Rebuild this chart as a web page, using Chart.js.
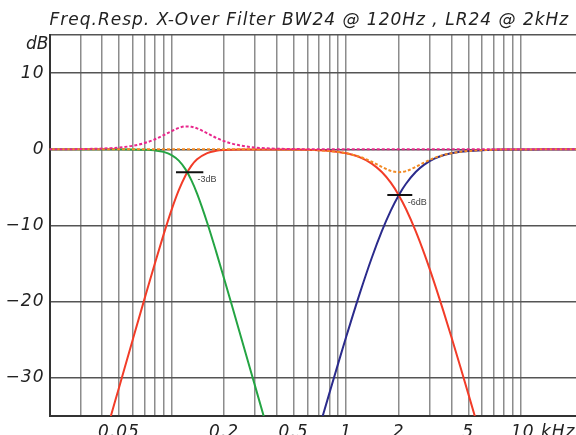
<!DOCTYPE html>
<html>
<head>
<meta charset="utf-8">
<title>X-Over Filter</title>
<script src="https://cdn.jsdelivr.net/npm/chart.js@4.4.1/dist/chart.umd.min.js"></script>
<style>
  html, body { margin: 0; padding: 0; background: #fff; }
  canvas { display: block; }
</style>
</head>
<body>
<canvas id="respChart" width="576" height="435"></canvas>
<script>
// frequency points in kHz, shared by every curve
const freqs = [0.02, 0.025, 0.03, 0.035, 0.04, 0.045, 0.05, 0.06, 0.07, 0.08, 0.09,
    0.1, 0.11, 0.12, 0.13, 0.14, 0.16, 0.18, 0.2, 0.22, 0.25, 0.3, 0.35, 0.4,
    0.5, 0.6, 0.7, 0.8, 0.9, 1.0, 1.2, 1.4, 1.6, 1.8, 2.0, 2.2, 2.5, 2.8, 3.2, 3.6,
    4, 4.5, 5, 6, 7, 8, 10, 12, 15, 20, 22];

// BW24 low-pass @ 120 Hz (dB)
const bwLowPass = [0, 0, 0, 0, 0, 0, 0, -0.01, -0.05, -0.14, -0.34,
    -0.76, -1.49, -2.60, -4.08, -5.82, -9.64, -13.43, -16.98, -20.24, -24.66, -30.98, -36.33, -40.97,
    null, null, null, null, null, null, null, null, null, null, null, null, null, null, null, null,
    null, null, null, null, null, null, null, null, null, null, null];

// BW24 low + high summed (dB)
const bwSum = [0, 0.01, 0.03, 0.06, 0.10, 0.15, 0.23, 0.46, 0.82, 1.29, 1.85,
    2.39, 2.81, 3.00, 2.96, 2.74, 2.10, 1.51, 1.07, 0.77, 0.48, 0.24, 0.13, 0.08,
    0.03, 0.02, 0.01, 0.01, 0, 0, 0, 0, 0, 0, 0, 0, 0, 0, 0, 0,
    0, 0, 0, 0, 0, 0, 0, 0, 0, 0, 0];

// mid band: BW24 high-pass @ 120 Hz into LR24 low-pass @ 2 kHz (dB)
const midBand = [null, null, null, -43.66, -39.03, -34.93, -31.28, -24.95, -19.63, -15.08, -11.20,
    -7.95, -5.37, -3.46, -2.15, -1.32, -0.50, -0.20, -0.09, -0.05, -0.02, -0.01, -0.01, -0.01,
    -0.03, -0.07, -0.13, -0.22, -0.35, -0.53, -1.06, -1.87, -2.98, -4.38, -6.02, -7.83, -10.74, -13.70, -17.56, -21.21,
    -24.61, -28.51, -32.06, -38.28, -43.58, null, null, null, null, null, null];

// LR24 high-pass @ 2 kHz (dB)
const lrHighPass = [null, null, null, null, null, null, null, null, null, null, null,
    null, null, null, null, null, null, null, null, null, null, null, null, null,
    null, -41.90, -36.60, -32.06, -28.09, -24.61, -18.81, -14.26, -10.74, -8.04, -6.02, -4.52, -2.98, -2.01, -1.23, -0.79,
    -0.53, -0.33, -0.22, -0.11, -0.06, -0.03, -0.01, -0.01, 0, 0, 0];

// LR24 low + high power sum (dB)
const lrPowerSum = [0, 0, 0, 0, 0, 0, 0, 0, 0, 0, 0,
    0, 0, 0, 0, 0, 0, 0, 0, 0, 0, 0, 0, -0.01,
    -0.03, -0.07, -0.13, -0.22, -0.34, -0.51, -0.99, -1.63, -2.31, -2.83, -3.01, -2.86, -2.31, -1.73, -1.13, -0.75,
    -0.51, -0.33, -0.22, -0.11, -0.06, -0.03, -0.01, -0.01, 0, 0, 0];

// axis ticks
const gridFreqs = [0.02, 0.03, 0.04, 0.05, 0.06, 0.07, 0.08, 0.09,
    0.1, 0.2, 0.3, 0.4, 0.5, 0.6, 0.7, 0.8, 0.9,
    1, 2, 3, 4, 5, 6, 7, 8, 9, 10];
const freqLabelAt = [0.05, 0.2, 0.5, 1, 2, 5, 10];
const freqLabelText = ['0.05', '0.2', '0.5', '1', '2', '5', '       10 kHz'];
const levelTicks = [-30, -20, -10, 0, 10, 15];

// crossover point markers
const markBwFreqs = [0.106, 0.152];
const markBwLevel = -3;
const markLrFreqs = [1.72, 2.39];
const markLrLevel = -6;
const markNotes = ['-3dB', '-6dB'];
const markNoteFreqs = [0.12, 2];
const markNoteLevels = [-3, -6];

const FONT = '"DejaVu Sans", sans-serif';

const toPoints = (vals) => freqs.map((f, i) => ({ x: f, y: vals[i] }));
const flatMark = (fs, level) => fs.map(f => ({ x: f, y: level }));

const curve = (data, color, extra) => Object.assign({
    data: data,
    borderColor: color,
    borderWidth: 2,
    pointRadius: 0,
    fill: false,
    spanGaps: false,
    cubicInterpolationMode: 'monotone'
}, extra || {});

// wider letter spacing for the axis and title text
const spacing = {
    id: 'spacing',
    beforeDraw(chart) {
        chart.ctx.save();
        chart.ctx.letterSpacing = '1px';
    },
    afterDraw(chart) {
        chart.ctx.restore();
    }
};

// dB label and the small crossover notes
const notes = {
    id: 'notes',
    afterDraw(chart) {
        const { ctx, chartArea, scales: { x, y } } = chart;
        ctx.save();
        ctx.letterSpacing = '0px';
        ctx.fillStyle = '#222';
        ctx.font = '300 italic 17px ' + FONT;
        ctx.textAlign = 'right';
        ctx.textBaseline = 'middle';
        ctx.fillText('dB', chartArea.left - 1, chartArea.top + 10);

        ctx.fillStyle = '#444';
        ctx.font = '9px "Liberation Sans", sans-serif';
        ctx.textAlign = 'left';
        markNotes.forEach((txt, i) => {
            const px = x.getPixelForValue(markNoteFreqs[i]) + (i === 0 ? 12 : 9);
            const py = y.getPixelForValue(markNoteLevels[i]) + 7.5;
            ctx.fillText(txt, px, py);
        });
        ctx.restore();
    }
};

const ctx = document.getElementById('respChart').getContext('2d');

new Chart(ctx, {
    type: 'line',
    data: {
        datasets: [
            curve(flatMark(markBwFreqs, markBwLevel), '#111', { cubicInterpolationMode: 'default' }),
            curve(flatMark(markLrFreqs, markLrLevel), '#111', { cubicInterpolationMode: 'default' }),
            curve(toPoints(bwSum), '#e8288c', { borderDash: [3, 2] }),
            curve(toPoints(lrPowerSum), '#f28a24', { borderDash: [3, 2], borderDashOffset: 2.5 }),
            curve(toPoints(bwLowPass), '#24a443'),
            curve(toPoints(midBand), '#f23c28'),
            curve(toPoints(lrHighPass), '#2b2b8c')
        ]
    },
    options: {
        responsive: false,
        animation: false,
        layout: { padding: 0 },
        plugins: {
            legend: { display: false },
            tooltip: { enabled: false },
            title: {
                display: true,
                text: 'Freq.Resp. X-Over Filter BW24 @ 120Hz , LR24 @ 2kHz',
                align: 'start',
                fullSize: false,
                color: '#222',
                font: { family: FONT, style: 'italic', size: 17, weight: 300 },
                padding: { top: 10, bottom: 4.6 }
            }
        },
        scales: {
            x: {
                type: 'logarithmic',
                min: 0.02,
                max: 20.7,
                afterBuildTicks: (scale) => {
                    scale.ticks = gridFreqs.map(v => ({ value: v }));
                },
                afterFit: (scale) => {
                    scale.height = 19;
                    scale.paddingLeft = 0;
                    scale.paddingRight = 0;
                },
                grid: { color: '#8c8c8c', lineWidth: 1.5, drawTicks: false },
                border: { color: '#333', width: 2 },
                ticks: {
                    autoSkip: false,
                    maxRotation: 0,
                    padding: 6,
                    color: '#222',
                    font: { family: FONT, style: 'italic', size: 17, weight: 300 },
                    callback: (value) => {
                        const i = freqLabelAt.findIndex(v => Math.abs(v - value) < 1e-9);
                        return i < 0 ? '' : freqLabelText[i];
                    }
                }
            },
            y: {
                min: -35,
                max: 15,
                afterBuildTicks: (scale) => {
                    scale.ticks = levelTicks.map(v => ({ value: v }));
                },
                afterFit: (scale) => {
                    scale.width = 49.5;
                    scale.paddingTop = 0;
                    scale.paddingBottom = 0;
                },
                grid: { color: '#555', lineWidth: 1.5, drawTicks: false },
                border: { color: '#333', width: 2 },
                ticks: {
                    padding: 5,
                    color: '#222',
                    font: { family: FONT, style: 'italic', size: 17, weight: 300 },
                    callback: (value) => {
                        if (value > 10) return '';
                        return value < 0 ? '\u2212' + Math.abs(value) : String(value);
                    }
                }
            }
        }
    },
    plugins: [spacing, notes]
});
</script>
</body>
</html>
